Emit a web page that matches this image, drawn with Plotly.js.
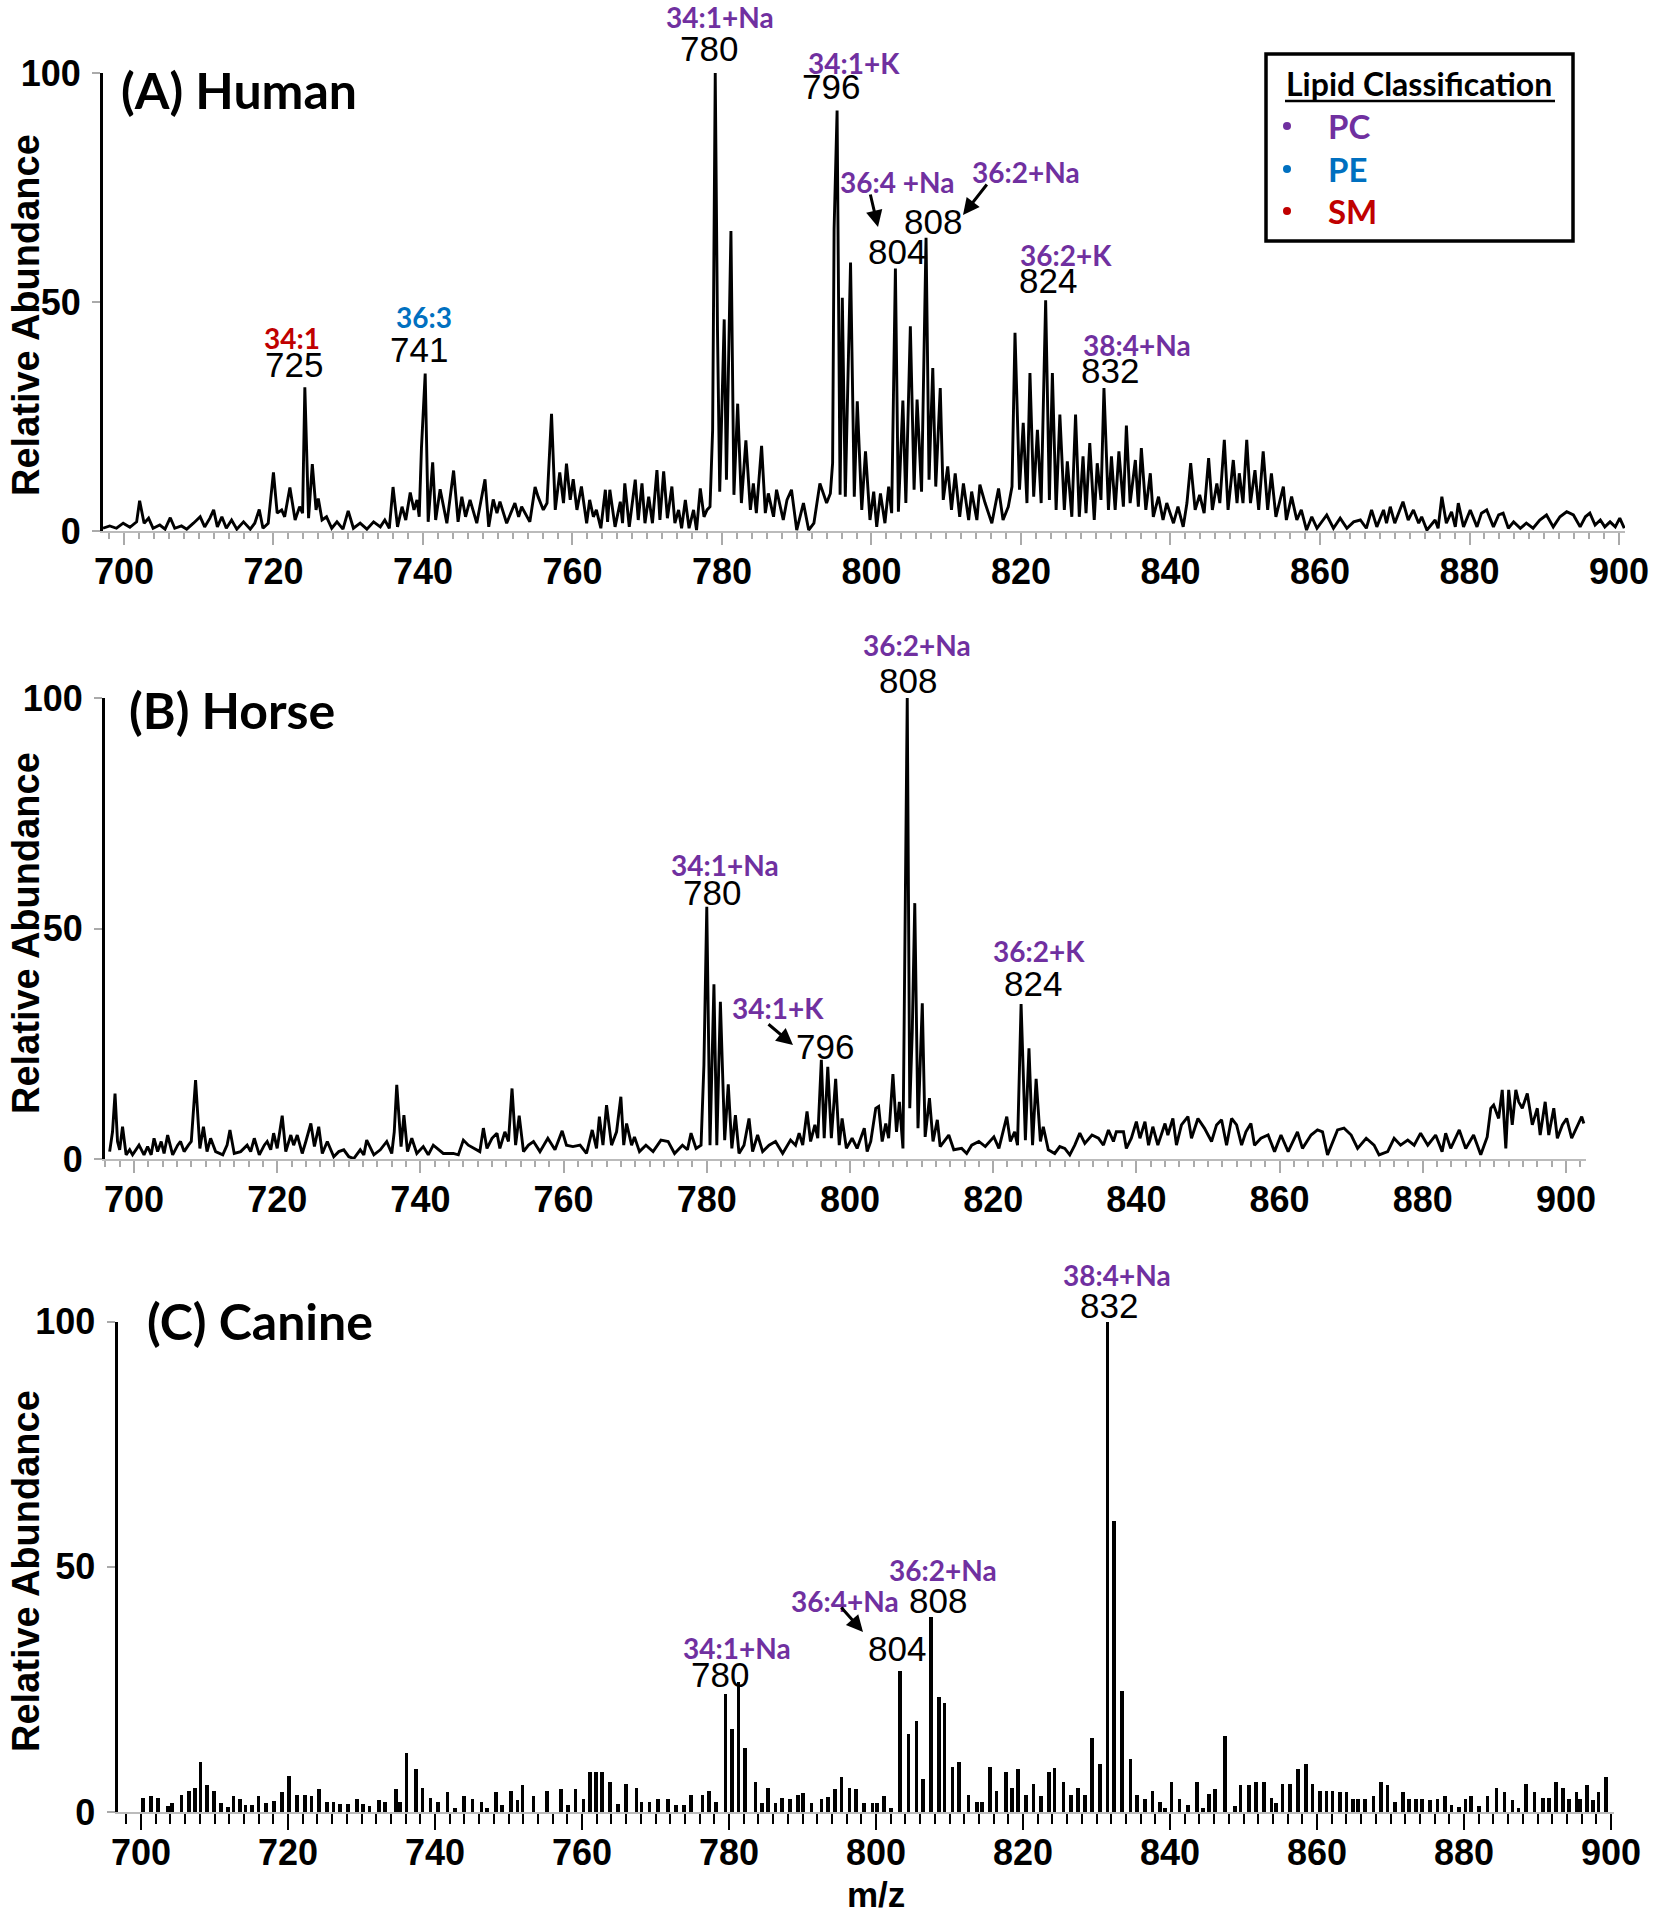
<!DOCTYPE html>
<html><head><meta charset="utf-8">
<script src="https://cdn.plot.ly/plotly-3.0.1.min.js"></script>
<style>html,body{margin:0;padding:0;background:#fff}#chart{width:1657px;height:1920px}</style>
</head><body><div id="chart"></div>
<script>
// ---------------- DATA ----------------
const mzHuman = [697.2,698.1,699.0,699.9,700.8,701.7,702.1,702.7,703.3,703.9,704.8,705.5,706.2,706.8,707.7,708.4,709.3,710.2,710.8,711.5,712.0,712.5,713.1,713.7,714.4,715.1,716.0,716.9,717.5,718.1,718.6,719.3,720.0,720.5,721.1,721.5,722.2,722.9,723.5,723.9,724.2,724.7,725.2,725.7,726.0,726.5,727.1,727.8,728.5,729.3,730.0,730.7,731.6,732.5,733.4,734.3,734.9,735.5,736.0,736.6,737.2,737.7,738.3,738.8,739.2,739.5,739.8,740.3,740.7,741.3,741.7,742.3,743.2,744.1,744.7,745.2,745.7,746.3,747.2,748.3,748.8,749.4,749.9,750.3,751.2,752.3,752.8,753.2,754.3,755.0,755.4,756.1,756.6,757.2,757.7,758.3,758.8,759.2,759.7,760.1,760.6,761.2,761.9,762.3,762.8,763.2,763.8,764.4,764.7,765.0,765.7,766.4,766.7,767.0,767.6,768.4,768.8,769.3,769.7,770.2,770.7,771.3,771.7,772.2,772.7,773.3,773.7,774.2,774.6,775.1,775.6,776.2,776.6,777.1,777.6,778.0,778.4,778.75,779.1,779.4,779.7,780.3,780.6,781.2,781.6,782.1,782.6,783.2,783.8,784.2,784.6,785.3,785.8,786.2,786.9,787.3,788.2,788.7,789.3,790.0,790.9,791.6,792.3,793.1,794.0,794.5,794.8,795.0,795.4,795.8,796.1,796.5,797.2,797.7,798.1,798.7,799.2,799.8,800.3,800.7,801.2,801.8,802.3,802.7,803.2,803.6,804.2,804.6,805.2,805.7,806.1,806.7,807.3,807.7,808.2,808.6,809.2,809.6,810.2,810.7,811.2,811.8,812.3,813.0,813.4,814.1,814.5,815.2,816.1,817.0,817.6,818.3,818.8,819.2,819.8,820.3,820.8,821.2,821.7,822.2,822.7,823.3,823.8,824.2,824.7,825.2,825.8,826.2,826.8,827.3,827.8,828.3,828.7,829.2,829.8,830.2,830.7,831.1,831.7,832.1,832.6,833.1,833.7,834.1,834.6,835.3,835.7,836.1,836.7,837.3,837.7,838.4,839.0,839.5,840.4,841.0,841.7,842.2,842.7,843.3,843.9,844.5,845.1,845.6,846.2,846.6,847.2,847.7,848.4,848.9,849.2,849.7,850.2,850.7,851.3,851.8,852.4,853.0,853.5,854.1,855.1,855.5,856.2,856.9,857.5,858.2,858.9,859.6,860.9,861.8,862.7,863.6,864.5,865.4,866.2,866.9,867.6,868.5,868.9,869.4,870.0,871.1,871.8,872.5,873.2,873.6,874.3,875.4,875.8,876.3,876.9,877.6,878.1,878.5,879.2,880.1,881.0,881.6,882.3,883.2,883.9,884.5,885.2,885.9,886.8,887.6,888.5,889.4,890.3,891.2,892.1,893.0,893.9,894.8,895.5,896.1,896.8,897.5,898.1,898.8,899.5,900.1,900.7];
const intHuman = [0.6,1.1,0.6,1.7,0.8,2.0,6.6,1.7,2.8,0.6,1.3,0.4,2.9,0.6,1.1,0.4,1.7,3.1,0.9,2.8,4.6,0.9,3.1,0.6,2.4,0.4,2.0,0.4,1.7,4.7,0.6,1.7,12.8,3.9,4.6,3.1,9.5,2.4,5.3,3.9,31.4,2.8,14.6,4.6,7.1,2.4,3.1,0.6,2.0,0.4,4.4,0.6,1.7,0.4,2.0,0.9,2.4,0.6,9.6,0.9,5.3,2.4,8.4,4.6,6.8,3.1,18.1,34.4,2.0,15.0,2.4,9.1,1.7,13.2,2.0,7.5,3.1,6.8,1.7,11.3,0.9,6.9,3.9,6.4,1.7,6.1,3.1,5.3,2.0,9.6,7.5,4.6,6.1,25.6,4.6,12.8,6.1,14.7,6.8,11.3,4.6,9.7,1.7,6.8,3.1,4.6,0.6,9.0,2.0,9.0,0.9,6.4,1.7,10.4,0.9,11.2,2.4,10.4,1.7,7.5,1.7,13.3,2.4,13.0,2.8,9.7,1.7,4.6,0.6,6.8,0.6,4.6,0.2,9.3,3.1,4.6,5.3,22.0,100,44.0,8.6,46.2,11.2,65.5,7.9,27.8,6.1,19.8,4.6,10.4,3.9,18.6,3.9,8.2,3.1,9.0,2.4,6.8,9.0,0.2,6.1,0.2,1.7,10.4,6.1,8.2,14.8,65.9,91.8,7.9,50.9,7.5,58.6,7.5,28.3,4.6,17.4,2.4,8.6,0.9,8.2,1.7,9.7,3.9,57.3,4.2,28.5,6.1,44.7,9.0,28.7,8.6,64.0,11.2,35.6,9.7,31.2,6.8,14.1,4.6,12.6,3.1,10.4,2.4,8.6,2.4,10.1,6.1,1.7,9.3,2.4,5.3,9.7,43.3,9.0,23.6,6.1,34.5,7.5,22.1,6.1,50.4,6.8,34.5,4.6,25.4,4.6,15.2,3.1,25.4,3.1,16.3,3.9,19.2,2.4,14.8,6.8,31.2,4.6,16.3,4.6,17.4,5.3,23.0,6.1,15.5,5.3,18.1,4.6,12.6,3.1,7.5,2.4,6.1,1.7,5.3,0.9,6.1,14.8,4.6,7.9,3.9,15.9,4.6,10.4,6.1,19.9,4.6,15.5,6.1,12.6,6.1,19.9,6.1,13.3,4.6,17.4,4.6,12.6,3.1,9.7,2.4,7.5,2.4,4.6,0.2,3.1,0.6,3.5,0.6,2.8,0.6,2.0,2.4,0.6,4.6,0.9,4.6,1.7,5.3,1.7,6.4,2.4,4.6,1.7,3.1,0.2,2.4,0.6,7.5,1.7,4.2,0.9,6.1,0.9,4.6,0.9,3.9,4.6,0.9,3.5,3.9,0.6,2.0,0.6,1.7,0.6,2.4,3.5,0.9,3.1,4.2,3.5,0.9,3.1,3.9,1.3,2.4,0.9,2.0,0.9,2.8,0.6];

const mzHorse = [696.6,697.0,697.35,697.7,698.0,698.4,698.9,699.4,699.8,700.7,701.4,701.9,702.4,702.8,703.3,703.8,704.2,704.7,705.4,706.1,706.5,707.0,707.6,708.0,708.6,709.2,709.7,710.2,710.7,711.4,712.4,713.0,713.4,714.0,714.9,715.8,716.3,716.8,717.5,718.2,718.6,719.1,719.5,720.0,720.7,721.2,721.9,722.3,722.8,723.5,724.0,724.7,725.2,725.8,726.3,727.0,727.9,728.6,729.3,730.0,730.7,731.6,732.1,732.5,733.5,734.4,735.3,736.0,736.35,736.7,737.3,737.7,738.2,738.8,739.5,740.4,741.1,741.8,743.2,744.6,745.3,746.0,746.7,747.6,748.3,748.8,749.3,750.0,750.7,751.1,751.8,752.3,752.8,753.3,753.8,754.4,755.1,755.8,756.7,757.8,758.8,759.8,760.4,761.3,762.3,763.2,764.0,764.6,765.0,765.5,766.0,766.7,767.4,768.0,768.4,768.8,769.5,769.9,770.6,771.5,772.5,773.6,774.6,775.5,776.6,777.3,777.8,778.5,779.2,779.6,780.0,780.45,781.0,781.4,781.9,782.5,783.0,783.5,784.0,784.5,785.2,785.9,786.4,787.1,787.8,788.7,789.6,790.6,791.7,792.4,792.9,793.4,794.0,794.5,795.1,795.5,796.0,796.4,796.9,797.4,798.0,798.5,798.9,799.5,800.3,801.0,802.0,802.4,802.9,803.6,804.0,804.5,805.0,805.4,806.0,806.5,806.9,807.4,807.65,808.0,808.35,808.7,809.05,809.5,810.1,810.5,811.1,811.6,812.2,812.6,813.8,814.5,815.6,816.3,817.0,818.0,818.9,820.1,820.8,821.9,822.4,823.0,823.4,823.9,824.5,825.0,825.5,826.0,826.6,827.0,827.7,828.6,829.3,830.0,830.7,831.4,832.1,832.8,833.8,834.7,835.4,836.1,836.8,837.2,838.2,838.6,839.3,840.0,840.5,841.2,841.7,842.3,843.0,844.0,844.4,845.1,845.6,846.3,847.2,847.7,848.6,849.5,850.5,851.2,851.9,852.6,853.3,854.0,854.7,855.3,856.0,856.5,857.4,858.4,859.3,860.2,861.2,862.5,863.2,864.4,865.3,866.0,866.7,868.1,869.0,870.0,870.9,872.1,873.2,873.9,875.1,876.0,876.9,877.9,878.8,879.7,880.7,881.8,882.7,883.2,883.9,885.1,886.0,887.1,888.1,889.0,889.5,889.9,890.6,891.1,891.6,892.0,892.5,893.0,893.4,893.9,894.6,895.3,896.0,896.4,897.1,897.6,898.3,898.8,899.5,900.1,900.8,901.5,902.2,902.5];
const intHorse = [1.6,5.9,14.2,3.8,2.0,7.0,0.9,2.0,0.9,3.0,0.9,2.7,0.9,4.5,1.6,3.8,1.2,5.2,0.9,3.0,3.8,1.6,3.0,3.8,17.1,2.3,7.0,1.6,4.5,1.6,0.9,3.0,6.3,1.2,1.6,3.0,1.6,4.5,0.9,3.0,3.8,2.0,5.6,2.3,9.4,1.6,5.2,3.0,5.2,1.2,3.8,7.7,2.7,7.0,1.2,3.8,0.5,1.6,2.0,0.5,0.1,2.0,0.9,4.1,0.9,2.0,3.8,1.2,5.9,16.1,2.7,9.5,1.6,4.5,1.2,2.7,0.9,3.0,1.2,1.2,0.9,4.1,3.0,2.3,1.6,6.7,2.3,4.5,5.6,2.3,5.9,3.8,15.3,3.0,9.4,1.6,3.0,3.8,1.6,4.5,2.0,6.1,3.0,2.7,3.0,1.2,6.3,2.3,9.2,3.0,11.7,3.0,5.9,13.5,3.0,7.7,3.0,4.8,1.6,3.0,1.6,4.1,3.8,1.2,3.0,2.0,5.6,2.3,3.0,20.4,54.7,3.0,37.9,3.0,34.1,4.1,16.2,2.3,9.5,1.2,3.0,8.8,1.6,5.2,1.6,3.0,3.8,1.2,4.1,3.0,5.6,3.0,10.3,3.8,7.4,4.5,21.5,4.5,20.0,4.5,17.4,3.0,8.8,2.3,4.5,2.3,6.7,1.6,3.8,11.0,11.4,3.8,7.7,4.5,18.4,5.9,12.4,2.3,42.0,100,11.0,27.6,55.5,6.7,33.8,4.8,13.2,3.8,8.5,2.7,5.2,2.0,2.3,1.2,3.0,3.8,2.7,4.8,2.3,9.2,3.8,5.9,3.0,33.6,4.1,24.0,3.0,17.4,3.8,7.0,2.0,1.2,2.7,2.3,0.9,3.0,5.6,3.4,5.2,4.5,3.0,6.3,3.8,5.9,5.9,2.3,4.5,8.1,4.5,8.1,3.0,7.0,3.0,7.7,5.2,8.8,3.0,7.4,9.2,4.5,8.8,6.7,3.8,7.4,8.5,3.0,8.8,7.4,3.0,5.9,7.7,3.0,4.5,5.2,1.6,5.2,1.6,5.9,2.3,5.2,6.3,5.9,0.9,6.3,6.7,5.2,2.3,4.5,3.0,0.9,1.6,4.5,3.0,4.1,3.0,5.6,3.0,5.2,1.6,5.6,2.3,6.3,2.3,5.2,0.9,4.8,11.0,11.7,8.8,15.0,2.3,15.0,7.4,15.0,12.4,11.0,14.2,7.4,11.0,5.2,12.4,5.2,11.0,4.5,7.4,8.8,4.5,6.7,9.2,7.7];

const mzCanine = [700.3,701.4,702.3,703.7,704.2,705.5,706.5,707.3,708.1,709.0,709.9,710.9,711.8,712.6,713.5,714.2,715.1,716.0,717.0,718.1,719.2,720.1,721.2,722.3,723.2,724.2,725.3,726.2,727.1,728.2,729.4,730.2,731.1,732.4,733.2,734.7,735.2,736.1,737.4,738.3,739.4,740.4,741.7,742.7,743.9,745.1,746.3,747.1,748.3,749.1,750.3,751.2,751.9,753.4,755.2,757.1,758.1,759.1,760.2,761.1,761.9,762.7,763.8,764.9,766.0,767.4,768.1,769.2,770.3,771.7,772.8,773.9,774.8,776.4,777.3,778.2,779.5,780.4,781.3,782.2,783.6,784.5,785.3,786.3,787.2,788.3,789.4,790.1,791.2,792.6,793.5,794.4,795.3,796.4,797.3,798.4,799.5,800.1,801.1,802.0,803.3,804.4,805.5,806.4,807.5,808.6,809.3,810.4,811.3,812.6,813.7,814.4,815.5,816.4,817.7,818.5,819.3,820.4,821.4,822.4,823.5,824.3,825.5,826.5,827.5,828.4,829.4,830.5,831.5,832.4,833.5,834.6,835.5,836.6,837.6,838.6,839.3,840.2,841.3,842.4,843.7,844.5,845.3,846.1,847.5,848.8,849.6,850.7,851.7,852.8,853.8,854.4,855.3,856.3,857.4,858.5,859.4,860.4,861.3,862.1,863.1,864.0,864.9,865.6,866.5,867.7,868.7,869.6,870.6,871.7,872.5,873.5,874.3,875.4,876.4,877.4,878.3,879.3,880.2,880.9,882.0,883.2,884.4,885.5,886.6,887.4,888.4,889.6,890.7,891.6,892.5,893.5,894.3,895.3,895.8,896.7,897.5,898.3,899.3];
const intCanine = [2.8,3.3,2.9,1.3,1.8,3.4,4.2,4.9,10.2,5.5,4.2,1.9,1.1,3.3,2.7,1.5,1.5,3.3,1.8,2.2,4.0,7.3,3.4,3.4,3.3,4.6,2.0,2.0,1.6,1.6,2.7,1.6,1.3,2.5,2.0,4.6,2.0,12.1,8.8,4.9,2.8,2.0,4.0,0.9,3.3,2.7,2.0,0.9,4.0,1.5,4.2,2.5,5.5,3.3,4.2,4.6,1.5,4.6,2.7,8.1,8.1,8.2,6.2,1.6,5.7,4.9,2.0,2.0,2.7,2.7,1.5,1.5,3.5,3.5,4.2,2.0,24.0,17.0,26.5,13.1,6.2,1.8,4.9,1.8,2.8,2.7,3.5,3.9,1.9,2.7,3.1,4.6,7.2,4.9,4.6,1.9,1.9,1.9,3.3,0.9,28.7,15.9,18.6,6.8,39.8,23.4,22.3,9.1,10.2,3.5,2.0,2.0,9.1,4.2,8.1,4.9,8.8,3.5,5.7,3.3,8.1,9.0,6.2,3.5,4.9,3.5,15.0,9.7,100,59.4,24.7,10.9,3.5,2.7,4.2,2.0,0.9,6.2,2.7,1.5,6.2,0.9,3.7,4.7,15.5,1.3,5.5,5.5,6.2,6.2,2.8,1.8,5.7,5.7,8.7,9.7,5.7,4.2,4.2,4.2,4.0,4.0,2.7,2.7,2.7,3.3,6.2,5.5,2.0,4.0,2.7,2.7,2.7,2.4,2.7,3.3,1.5,1.1,2.7,3.3,1.3,3.3,4.9,4.0,2.4,0.9,5.7,4.0,2.8,2.8,6.2,4.9,2.7,4.0,2.7,5.5,2.4,4.0,7.2];

const xTickVals = [700,720,740,760,780,800,820,840,860,880,900];
const xTickText = ['700','720','740','760','780','800','820','840','860','880','900'];
const yTickVals = [0,50,100];
const yTickText = ['0','50','100'];

const panelTitles = ['(A) Human','(B) Horse','(C) Canine'];
const yTitle = 'Relative Abundance';
const xTitle = 'm/z';

const lipidClasses = ['PC','PE','SM'];
const classColors = {PC:'#7030A0', PE:'#0070C0', SM:'#C00000'};
const legendTitle = 'Lipid Classification';

// peak labels: [lipid, class, nominal m/z]
const humanPeaks = [['34:1','SM','725'],['36:3','PE','741'],['34:1+Na','PC','780'],['34:1+K','PC','796'],['36:4 +Na','PC','804'],['36:2+Na','PC','808'],['36:2+K','PC','824'],['38:4+Na','PC','832']];
const horsePeaks = [['34:1+Na','PC','780'],['34:1+K','PC','796'],['36:2+Na','PC','808'],['36:2+K','PC','824']];
const caninePeaks = [['34:1+Na','PC','780'],['36:4+Na','PC','804'],['36:2+Na','PC','808'],['38:4+Na','PC','832']];

// ---------------- LAYOUT ----------------
const W = 1657, H = 1920;
const px = v => v / W;
const py = v => 1 - v / H;

const TICKFONT = {family:'Liberation Sans, Arial, sans-serif', size:36, color:'#000', weight:700};
const LIPIDFONT = 'Lato, Calibri, sans-serif';
const NUMFONT = 'Liberation Sans, Arial, sans-serif';

function xAxisCfg(dom, range, anchor, tickColor, black) {
  return {
    domain: dom, range: range, anchor: anchor, tickmode:'array', tickvals:xTickVals, ticktext:xTickText,
    tickfont: TICKFONT, ticks:'outside', ticklen: black ? 16 : 12, tickwidth: 2, tickcolor: tickColor,
    minor: {dtick:2, tick0:700, ticks:'outside', ticklen: black ? 10 : 6, tickwidth: 2, tickcolor: tickColor},
    showline:true, linecolor:'#bbbbbb', linewidth:2, showgrid:false, zeroline:false, ticklabelstandoff: black ? -8 : -4,
    fixedrange:true
  };
}
function yAxisCfg(dom, anchor) {
  return {
    domain: dom, range:[0,100], anchor: anchor, tickmode:'array', tickvals:yTickVals, ticktext:yTickText,
    tickfont: TICKFONT, ticks:'outside', ticklen:8, tickwidth:2, tickcolor:'#aaaaaa',
    showline:true, linecolor:'#000', linewidth:3, showgrid:false, zeroline:false, ticklabelstandoff:4,
    fixedrange:true
  };
}

const traces = [
  {type:'scatter', mode:'lines', x:mzHuman, y:intHuman, xaxis:'x', yaxis:'y', line:{color:'#000', width:2.9}, hoverinfo:'skip'},
  {type:'scatter', mode:'lines', x:mzHorse, y:intHorse, xaxis:'x2', yaxis:'y2', line:{color:'#000', width:2.9}, hoverinfo:'skip'},
  {type:'bar', x:mzCanine, y:intCanine, xaxis:'x3', yaxis:'y3', width:0.5, marker:{color:'#000', line:{width:0}}, hoverinfo:'skip'}
];

const ann = [];
function lipidLabel(x, y, peak) {
  ann.push({xref:'paper', yref:'paper', x:px(x), y:py(y), text:'<b>'+peak[0]+'</b>', showarrow:false,
    font:{family:LIPIDFONT, size:28, color:classColors[peak[1]]}, xanchor:'center', yanchor:'middle'});
}
function numLabel(x, y, txt) {
  ann.push({xref:'paper', yref:'paper', x:px(x), y:py(y), text:txt, showarrow:false,
    font:{family:NUMFONT, size:35, color:'#000'}, xanchor:'center', yanchor:'middle'});
}
function arrow(x0, y0, x1, y1) {
  ann.push({xref:'paper', yref:'paper', x:px(x1), y:py(y1), axref:'pixel', ayref:'pixel', ax:x0-x1, ay:y0-y1,
    text:'', showarrow:true, arrowhead:2, arrowsize:1.1, arrowwidth:3, arrowcolor:'#000', standoff:0, startstandoff:0});
}

// label positions on the page (lipid x,y ; number x,y), px from top-left
const humanPos = [[292,338,294,364],[424,317,419,349],[720,17,709,49],[854,63,831,87],
                  [897,182,897,251],[1026,172,933,221],[1066,255,1048,280],[1137,345,1110,370]];
humanPeaks.forEach((p,i)=>{ const q=humanPos[i]; lipidLabel(q[0],q[1],p); numLabel(q[2],q[3],p[2]); });
arrow(870,193,878,227);
arrow(988,183,963,215);

const horsePos = [[725,865,712,892],[778,1008,825,1046],[917,645,908,680],[1039,951,1033,984]];
horsePeaks.forEach((p,i)=>{ const q=horsePos[i]; lipidLabel(q[0],q[1],p); numLabel(q[2],q[3],p[2]); });
arrow(767,1023,793,1045);

const caninePos = [[737,1648,720,1674],[845,1601,897,1648],[943,1570,938,1600],[1117,1275,1109,1305]];
caninePeaks.forEach((p,i)=>{ const q=caninePos[i]; lipidLabel(q[0],q[1],p); numLabel(q[2],q[3],p[2]); });
arrow(840,1606,863,1632);

// panel titles
[[119,90],[127,710],[145,1321]].forEach((p,i)=>{
  ann.push({xref:'paper', yref:'paper', x:px(p[0]), y:py(p[1]), text:'<b>'+panelTitles[i]+'</b>', showarrow:false,
    xanchor:'left', yanchor:'middle', font:{family:LIPIDFONT, size:50, color:'#000'}});
});
// y titles
[315,933,1571].forEach(c=>{
  ann.push({xref:'paper', yref:'paper', x:px(26), y:py(c), text:'<b>'+yTitle+'</b>', textangle:-90, showarrow:false,
    xanchor:'center', yanchor:'middle', font:{family:NUMFONT, size:38, color:'#000'}});
});
// x title
ann.push({xref:'paper', yref:'paper', x:px(876), y:py(1894), text:'<b>'+xTitle+'</b>', showarrow:false,
  xanchor:'center', yanchor:'middle', font:{family:NUMFONT, size:35, color:'#000'}});

// legend box
ann.push({xref:'paper', yref:'paper', x:px(1419), y:py(84), text:'<b>'+legendTitle+'</b>', showarrow:false,
  xanchor:'center', yanchor:'middle', font:{family:LIPIDFONT, size:32, color:'#000'}});
const shapes = [
  {type:'rect', xref:'paper', yref:'paper', x0:px(1266), x1:px(1573), y0:py(241), y1:py(54), line:{color:'#000', width:3.5}, fillcolor:'rgba(0,0,0,0)'},
  {type:'line', xref:'paper', yref:'paper', x0:px(1285), x1:px(1555), y0:py(101), y1:py(101), line:{color:'#000', width:2.5}}
];
[126,169,211].forEach((yy,i)=>{
  const c = classColors[lipidClasses[i]];
  shapes.push({type:'circle', xref:'paper', yref:'paper', x0:px(1283), x1:px(1291), y0:py(yy+4), y1:py(yy-4), fillcolor:c, line:{color:c, width:0}});
  ann.push({xref:'paper', yref:'paper', x:px(1326), y:py(yy), text:'<b>'+lipidClasses[i]+'</b>', showarrow:false,
    xanchor:'left', yanchor:'middle', font:{family:LIPIDFONT, size:33, color:c}});
});

const layout = {
  width:W, height:H, margin:{l:0,r:0,t:0,b:0}, autosize:false,
  paper_bgcolor:'#fff', plot_bgcolor:'#fff', showlegend:false, hovermode:false, bargap:0,
  xaxis:  xAxisCfg([px(103), px(1625)], [697.2, 900.8], 'y', '#aaaaaa', false),
  yaxis:  yAxisCfg([py(531), py(73)], 'x'),
  xaxis2: xAxisCfg([px(105), px(1586)], [695.95, 902.8], 'y2', '#aaaaaa', false),
  yaxis2: yAxisCfg([py(1159), py(698)], 'x2'),
  xaxis3: xAxisCfg([px(117.5), px(1614)], [696.8, 900.4], 'y3', '#000', true),
  yaxis3: yAxisCfg([py(1812), py(1321.5)], 'x3'),
  annotations: ann, shapes: shapes
};

Plotly.newPlot('chart', traces, layout, {staticPlot:true, displayModeBar:false});
</script>
</body></html>
